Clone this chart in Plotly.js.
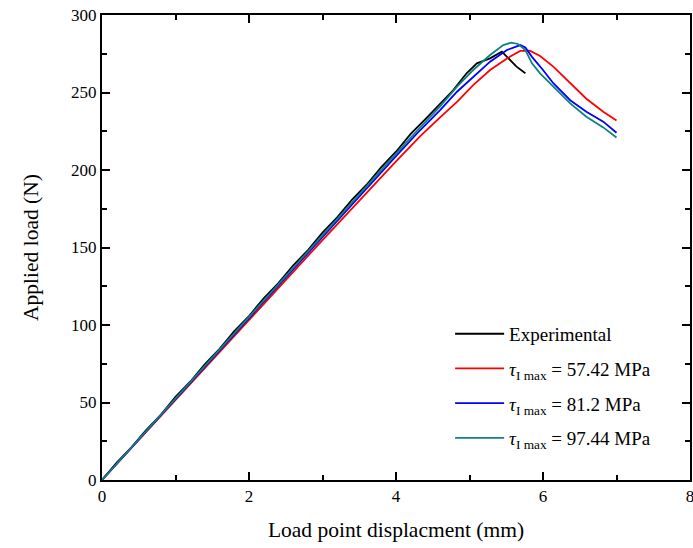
<!DOCTYPE html>
<html>
<head>
<meta charset="utf-8">
<script src="https://cdn.plot.ly/plotly-3.0.1.min.js"></script>
<style>html,body{margin:0;padding:0;background:#fff;}#chart{width:693px;height:548px;}</style>
</head>
<body>
<div id="chart"></div>
<script>
// Data
const seriesNames = ['Experimental', '<i>τ</i><sub>I max</sub> = 57.42 MPa', '<i>τ</i><sub>I max</sub> = 81.2 MPa', '<i>τ</i><sub>I max</sub> = 97.44 MPa'];

const expX = [0, 0.2, 0.4, 0.6, 0.8, 1.0, 1.2, 1.4, 1.6, 1.8, 2.0, 2.2, 2.4, 2.6, 2.8, 3.0, 3.2, 3.4, 3.6, 3.8, 4.0, 4.2, 4.4, 4.6, 4.78, 4.96, 5.10, 5.28, 5.44, 5.51, 5.64, 5.76];
const expY = [0, 11.2, 21.0, 32.2, 42.1, 53.6, 63.4, 74.8, 84.6, 96.0, 105.8, 117.2, 127.0, 138.4, 148.2, 159.6, 169.4, 180.8, 190.5, 201.9, 211.8, 223.3, 232.9, 243.0, 251.6, 262.4, 268.8, 272.0, 276.3, 273.0, 266.7, 262.4];

const redX = [0, 1, 2, 3, 4, 4.33, 4.6, 4.83, 5.05, 5.28, 5.51, 5.69, 5.82, 5.96, 6.14, 6.37, 6.59, 6.82, 7.0];
const redY = [0, 51.8, 103.4, 154.8, 205.5, 221.9, 234, 244, 254.8, 264.5, 272, 276.8, 277, 273.5, 266.7, 256, 246, 237.6, 232];

const blueX = [0, 1, 2, 3, 4, 4.33, 4.6, 4.83, 5.05, 5.28, 5.51, 5.69, 5.76, 5.85, 6.0, 6.14, 6.37, 6.59, 6.82, 7.0];
const blueY = [0, 52.4, 104.8, 157, 209, 225.8, 238.7, 250.5, 260.2, 269.9, 277.4, 280.6, 279, 273, 264.5, 256, 245, 237.6, 231.2, 224];

const tealX = [0, 1, 2, 3, 4, 4.33, 4.6, 4.83, 5.05, 5.28, 5.46, 5.57, 5.66, 5.76, 5.85, 5.96, 6.14, 6.37, 6.59, 6.82, 7.0];
const tealY = [0, 52.7, 105.5, 158, 210.5, 227.5, 241, 253.8, 264.5, 274.2, 280.6, 282.2, 281.3, 277.4, 268.8, 262.4, 253.8, 243, 234.4, 227.5, 221];

const xTickVals = [0, 2, 4, 6, 8];
const xMinorVals = [1, 3, 5, 7];
const yTickVals = [0, 50, 100, 150, 200, 250, 300];
const yMinorVals = [25, 75, 125, 175, 225, 275];

const FONT = 'Liberation Serif, Times New Roman, serif';
const colors = ['#000000', '#ff0000', '#0000ff', '#108080'];

const traces = [expX, redX, blueX, tealX].map(function (xs, i) {
  const ys = [expY, redY, blueY, tealY][i];
  return {x: xs, y: ys, name: seriesNames[i], legendgroup: 'g' + i, mode: 'lines',
          line: {color: colors[i], width: 1.8}};
});

const axisCommon = {
  showgrid: false, zeroline: false, showline: true, linecolor: '#000', linewidth: 2,
  mirror: 'allticks', ticks: 'inside', ticklen: 8, tickwidth: 2, tickcolor: '#000',
  ticklabeloverflow: 'allow',
  tickfont: {family: FONT, size: 17, color: '#000'}
};

const layout = {
  width: 693, height: 548,
  margin: {l: 102, r: 3, t: 15, b: 68},
  paper_bgcolor: '#fff', plot_bgcolor: '#fff',
  font: {family: FONT, color: '#000'},
  showlegend: true,
  legend: {
    x: 0.592, y: 0.355, xanchor: 'left', yanchor: 'top',
    bgcolor: 'rgba(0,0,0,0)', borderwidth: 0,
    itemwidth: 49, tracegroupgap: 7,
    font: {family: FONT, size: 19, color: '#000'}
  },
  xaxis: Object.assign({}, axisCommon, {
    range: [0, 8], tickmode: 'array', tickvals: xTickVals, ticktext: xTickVals.map(String),
    minor: {tickmode: 'array', tickvals: xMinorVals, ticks: 'inside', ticklen: 5, tickwidth: 2, tickcolor: '#000', showgrid: false},
    title: {text: 'Load point displacment (mm)', font: {family: FONT, size: 21.5, color: '#000'}, standoff: 17}
  }),
  yaxis: Object.assign({}, axisCommon, {
    range: [0, 300], tickmode: 'array', tickvals: yTickVals, ticktext: yTickVals.map(String),
    minor: {tickmode: 'array', tickvals: yMinorVals, ticks: 'inside', ticklen: 5, tickwidth: 2, tickcolor: '#000', showgrid: false},
    title: {text: 'Applied load (N)', font: {family: FONT, size: 21.5, color: '#000'}, standoff: 27}
  })
};

Plotly.newPlot('chart', traces, layout, {displayModeBar: false, staticPlot: true});
</script>
</body>
</html>
